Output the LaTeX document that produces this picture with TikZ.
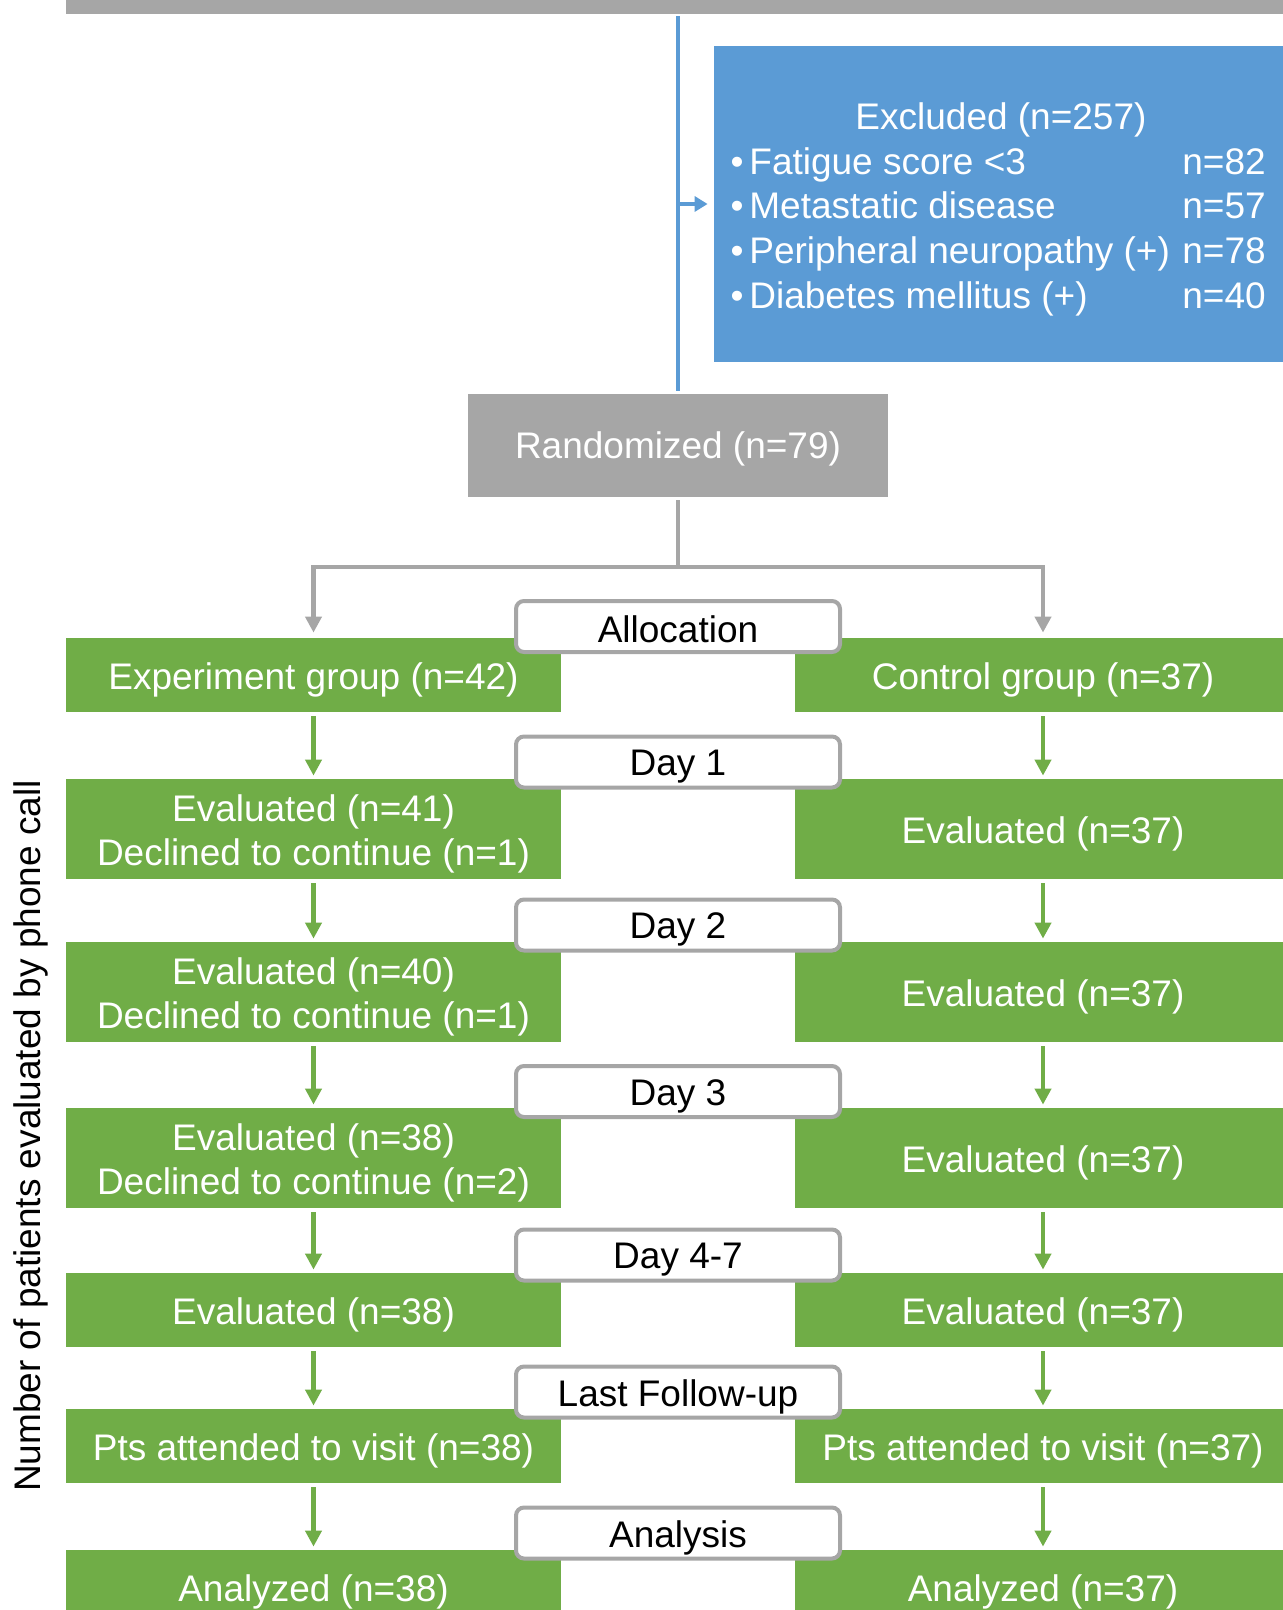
\documentclass[tikz,border=0pt]{standalone}
\usepackage{fontspec}
\setmainfont{Liberation Sans}
\usetikzlibrary{arrows.meta}
\definecolor{cgray}{HTML}{A6A6A6}
\definecolor{cblue}{HTML}{5B9BD5}
\definecolor{cgreen}{HTML}{70AD47}
\newcommand\lowr[2][2.5pt]{\raisebox{-#1}[\height][\depth]{#2}}
\begin{document}
\begin{tikzpicture}[x=0.5pt,y=-0.5pt,
  font=\fontsize{18.5pt}{22pt}\selectfont,
  lgbox/.style={fill=cgreen, text=white, inner sep=0pt, align=center, minimum width=247.5pt},
  rgbox/.style={fill=cgreen, text=white, inner sep=0pt, align=center, minimum width=248pt},
  shortrow/.style={minimum height=37pt},
  tallrow/.style={minimum height=50pt},
  lbl/.style={draw=cgray, line width=2pt, fill=white, rounded corners=4pt, minimum width=162pt, minimum height=25.5pt, inner sep=0pt, text=black},
  grayline/.style={draw=cgray, line width=2.25pt},
  grayarrow/.style={draw=cgray, line width=2.25pt, -{Triangle[length=8pt,width=8pt]}},
  greenarrow/.style={draw=cgreen, line width=2.25pt, -{Triangle[length=8pt,width=8pt]}, shorten <=2pt, shorten >=1.5pt},
  blueline/.style={draw=cblue, line width=2.25pt},
  bluearrow/.style={draw=cblue, line width=2.25pt, -{Triangle[length=6.5pt,width=7.5pt]}},
  wtext/.style={text=white, inner sep=0pt}
]
\useasboundingbox (0,0) rectangle (1283,1610);

% top bar
\node[fill=cgray, inner sep=0pt, minimum width=620pt, minimum height=7pt] (bar) at (686,7) {};

% excluded box
\node[fill=cblue, inner sep=0pt, minimum width=287pt, minimum height=158pt] (excl) at (1001,204) {};
\node[wtext, anchor=base] (exT) at (1001,130) {Excluded (n=257)};
\node[wtext, anchor=base] (b1) at (737,175) {•};
\node[wtext, anchor=base] (b2) at (737,219) {•};
\node[wtext, anchor=base] (b3) at (737,264) {•};
\node[wtext, anchor=base] (b4) at (737,309) {•};
\node[wtext, anchor=base west] (e1) at (749,175) {Fatigue score <3};
\node[wtext, anchor=base west] (e2) at (749,219) {Metastatic disease};
\node[wtext, anchor=base west] (e3) at (749,264) {Peripheral neuropathy (+)};
\node[wtext, anchor=base west] (e4) at (749,309) {Diabetes mellitus (+)};
\node[wtext, anchor=base west] (n1) at (1182,175) {n=82};
\node[wtext, anchor=base west] (n2) at (1182,219) {n=57};
\node[wtext, anchor=base west] (n3) at (1182,264) {n=78};
\node[wtext, anchor=base west] (n4) at (1182,309) {n=40};

% randomized
\node[fill=cgray, text=white, inner sep=0pt, minimum width=210pt, minimum height=51.5pt] (rand) at (678,445.5) {\lowr[1.5pt]{Randomized (n=79)}};

% blue connectors
\draw[blueline, shorten <=1pt, shorten >=1.5pt] (bar.south -| rand.north) -- (rand.north);
\coordinate (bj) at (678,204);
\draw[bluearrow, shorten >=3pt] (bj) -- (bj -| excl.west);

% green rows
\node[lgbox, shortrow] (L1) at (313.5,675) {\lowr{Experiment group (n=42)}};
\node[rgbox, shortrow] (R1) at (1043,675) {\lowr{Control group (n=37)}};
\node[lgbox, tallrow] (L2) at (313.5,829) {\lowr{Evaluated (n=41)}\\\lowr{Declined to continue (n=1)}};
\node[rgbox, tallrow] (R2) at (1043,829) {\lowr{Evaluated (n=37)}};
\node[lgbox, tallrow] (L3) at (313.5,992) {\lowr{Evaluated (n=40)}\\\lowr{Declined to continue (n=1)}};
\node[rgbox, tallrow] (R3) at (1043,992) {\lowr{Evaluated (n=37)}};
\node[lgbox, tallrow] (L4) at (313.5,1158) {\lowr{Evaluated (n=38)}\\\lowr{Declined to continue (n=2)}};
\node[rgbox, tallrow] (R4) at (1043,1158) {\lowr{Evaluated (n=37)}};
\node[lgbox, shortrow] (L5) at (313.5,1310) {\lowr{Evaluated (n=38)}};
\node[rgbox, shortrow] (R5) at (1043,1310) {\lowr{Evaluated (n=37)}};
\node[lgbox, shortrow] (L6) at (313.5,1446) {\lowr{Pts attended to visit (n=38)}};
\node[rgbox, shortrow] (R6) at (1043,1446) {\lowr{Pts attended to visit (n=37)}};
\node[lgbox, shortrow] (L7) at (313.5,1587) {\lowr{Analyzed (n=38)}};
\node[rgbox, shortrow] (R7) at (1043,1587) {\lowr{Analyzed (n=37)}};

% gray split
\coordinate (split) at (678,567);
\draw[grayline, shorten <=1.5pt] (rand.south) -- (split);
\draw[grayarrow, shorten >=2.5pt] (split) -| (L1.north);
\draw[grayarrow, shorten >=2.5pt] (split) -| (R1.north);

% green arrows
\foreach \a/\b in {1/2,2/3,3/4,4/5,5/6,6/7}{
  \draw[greenarrow] (L\a.south) -- (L\b.north);
  \draw[greenarrow] (R\a.south) -- (R\b.north);
}

% stage labels
\node[lbl] (sAlloc) at (678,626.5) {\lowr[1.5pt]{Allocation}};
\node[lbl] (sD1) at (678,762) {\lowr[2.25pt]{Day 1}};
\node[lbl] (sD2) at (678,925) {\lowr[2.25pt]{Day 2}};
\node[lbl] (sD3) at (678,1091.5) {\lowr[2.25pt]{Day 3}};
\node[lbl] (sD4) at (678,1255) {\lowr[2.25pt]{Day 4-7}};
\node[lbl] (sLF) at (678,1392) {\lowr[2.25pt]{Last Follow-up}};
\node[lbl] (sAn) at (678,1533) {\lowr[2.25pt]{Analysis}};

% vertical label
\node[rotate=90, text=black, inner sep=0pt] (ylab) at (31,1136) {Number of patients evaluated by phone call};
\end{tikzpicture}
\end{document}
